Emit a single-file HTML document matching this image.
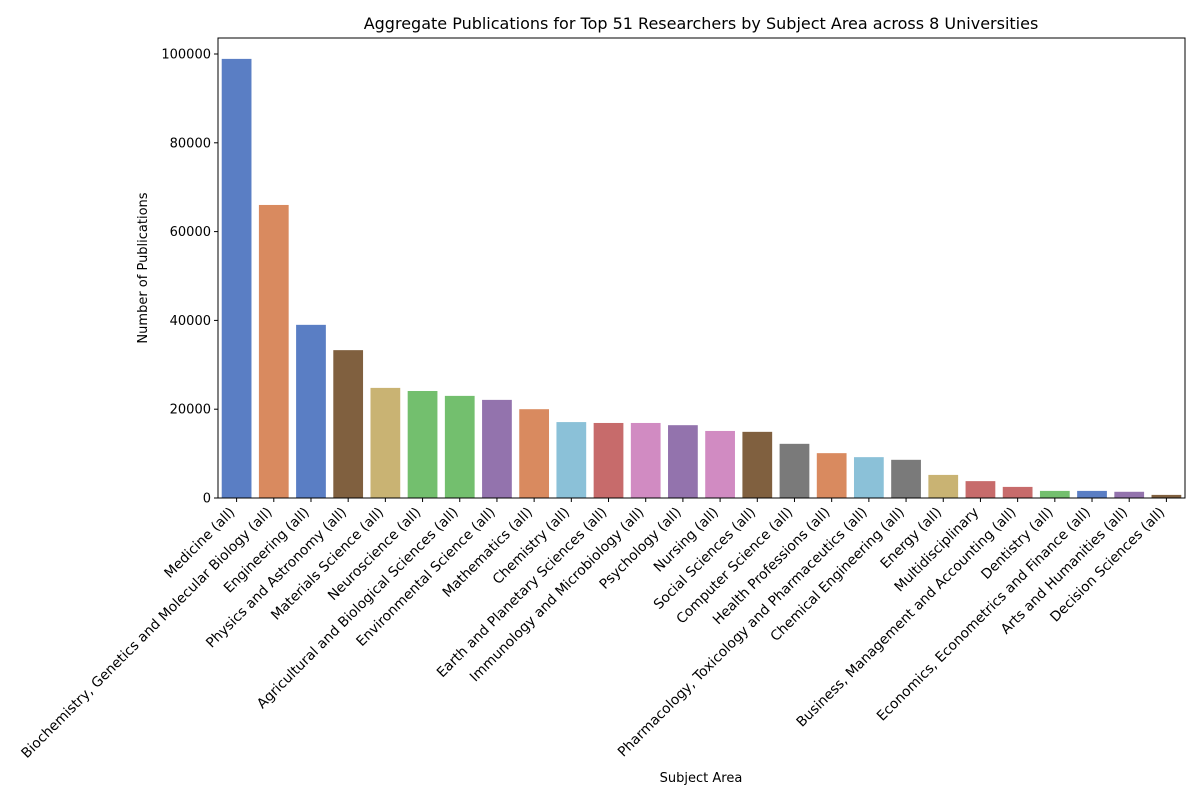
<!DOCTYPE html>
<html><head><meta charset="utf-8"><style>
body{margin:0;background:#fff;font-family:"Liberation Sans","DejaVu Sans",sans-serif}
svg text{font-family:"DejaVu Sans","Liberation Sans",sans-serif;fill:#000}
</style></head><body>
<svg id="chart" width="1200" height="800" xmlns="http://www.w3.org/2000/svg">
<text x="701" y="29" font-size="16" text-anchor="middle">Aggregate Publications for Top 51 Researchers by Subject Area across 8 Universities</text>
<g id="plot"></g>
<text x="701" y="782" font-size="13" text-anchor="middle">Subject Area</text>
<text transform="translate(147,268) rotate(-90)" font-size="13" text-anchor="middle">Number of Publications</text>
</svg>
<script>
const categories=["Medicine (all)","Biochemistry, Genetics and Molecular Biology (all)","Engineering (all)","Physics and Astronomy (all)","Materials Science (all)","Neuroscience (all)","Agricultural and Biological Sciences (all)","Environmental Science (all)","Mathematics (all)","Chemistry (all)","Earth and Planetary Sciences (all)","Immunology and Microbiology (all)","Psychology (all)","Nursing (all)","Social Sciences (all)","Computer Science (all)","Health Professions  (all)","Pharmacology, Toxicology and Pharmaceutics (all)","Chemical Engineering (all)","Energy (all)","Multidisciplinary","Business, Management and Accounting (all)","Dentistry (all)","Economics, Econometrics and Finance (all)","Arts and Humanities (all)","Decision Sciences (all)"];
const values=[98900,66000,39000,33300,24800,24100,23000,22100,20000,17100,16900,16900,16400,15100,14900,12200,10100,9200,8600,5200,3800,2500,1600,1600,1400,700];
const yTicks=[0,20000,40000,60000,80000,100000];
const colors=["#5a7ec4","#d98a5f","#5a7ec4","#80603f","#c9b373","#73bf6e","#73bf6e","#9373ad","#d98a5f","#8bc1d8","#c76b6b","#d18bc2","#9373ad","#d18bc2","#80603f","#7a7a7a","#d98a5f","#8bc1d8","#7a7a7a","#c9b373","#c76b6b","#c76b6b","#73bf6e","#5a7ec4","#9373ad","#80603f"];
const L=218,R=1185,T=38,B=498;
const ns="http://www.w3.org/2000/svg";
const g=document.getElementById('plot');
const band=(R-L)/categories.length;
const x=i=>L+band*(i+0.5);
const y=v=>B-v*(B-54)/100000;
function mk(t,a){const e=document.createElementNS(ns,t);for(const k in a)e.setAttribute(k,a[k]);g.appendChild(e);return e;}
values.forEach((v,i)=>{
 const r=mk('rect',{x:x(i)-band*0.4,y:y(v),width:band*0.8,height:B-y(v),fill:colors[i]});
 
 
 const tk=mk('line',{x1:x(i),x2:x(i),y1:B,y2:B+4,stroke:'#000'});
 
 
 const t=mk('text',{transform:`translate(${x(i)-1},${B+15}) rotate(-45)`,'font-size':'13.8','text-anchor':'end'});
 t.textContent=categories[i];
 
 
});
yTicks.forEach(v=>{
 const tk=mk('line',{x1:L-4,x2:L,y1:y(v),y2:y(v),stroke:'#000'});
 
 
 const t=mk('text',{x:L-7,y:y(v)+4.5,'font-size':'13','text-anchor':'end'});
 t.textContent=v;
 
 
});
const fr=mk('rect',{x:L,y:T,width:R-L,height:B-T,fill:'none',stroke:'#000','stroke-width':1});


</script>
</body></html>
